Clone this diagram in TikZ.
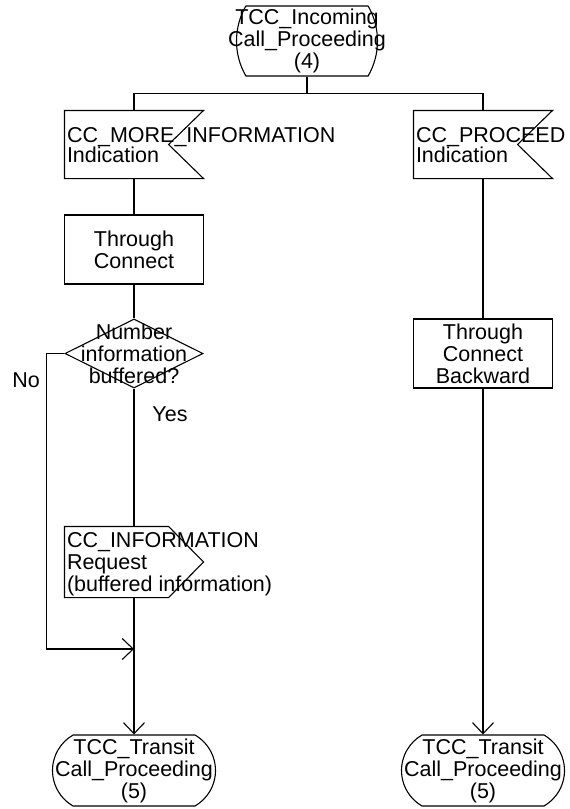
\documentclass[tikz,border=0pt]{standalone}
\usepackage{fontspec}
\setmainfont{Liberation Sans}
\usetikzlibrary{shapes.geometric,shapes.misc,arrows.meta}

\begin{document}
\begin{tikzpicture}[x=1pt,y=-1pt,line width=1.1pt,
	txt/.style={font=\fontsize{21.5}{22}\selectfont,inner sep=0pt,align=center},
	state/.style={rounded rectangle,draw,inner sep=0pt,minimum height=70pt},
	task/.style={rectangle,draw,txt,minimum width=139pt,minimum height=69pt},
	decision/.style={diamond,draw,inner sep=0pt,minimum width=138pt,minimum height=69pt},
	sigbox/.style={rectangle,inner sep=0pt,minimum width=138pt,minimum height=67pt},
	flow/.style={-{Straight Barb[length=11pt,width=21pt]}}]
		\useasboundingbox (0,0) rectangle (570,809);
		
		% Start state
		\node[state,minimum width=141pt,rounded rectangle arc length=60] (init) at (307,41) {};
		\node[txt] (initTxt) at (init) {TCC\_Incoming\\Call\_Proceeding\\(4)};
		\coordinate (bar) at ([yshift=-17pt]init.south);
		
		% Left branch
		\node[sigbox] (moreInd) at (134,144.5) {};
		\node[txt,align=left,anchor=north west,font=\fontsize{21.5}{18.5}\selectfont] (moreTxt) at ([xshift=2pt,yshift=-16pt]moreInd.north west) {CC\_MORE\_INFORMATION\\Indication};
		\node[task] (thru) at (134,249.5) {Through\\Connect};
		\node[decision] (buf) at (134,353.5) {};
		\node[txt] (bufTxt) at (buf) {Number\\information\\buffered?};
		\node[sigbox,minimum height=70pt] (infoReq) at (134,562) {};
		\node[txt,align=left,anchor=north west] (infoTxt) at ([xshift=2pt,yshift=-5pt]infoReq.north west) {CC\_INFORMATION\\Request\\(buffered information)};
		\node[state,minimum width=163pt,minimum height=71pt,rounded rectangle arc length=120] (next1) at (134,770.5) {};
		\node[txt] (next1Txt) at (next1) {TCC\_Transit\\Call\_Proceeding\\(5)};
		\coordinate (merge) at (134,649);
		
		% Right branch
		\node[sigbox] (procInd) at (483,144.5) {};
		\node[txt,align=left,anchor=north west,font=\fontsize{21.5}{18.5}\selectfont] (procTxt) at ([xshift=2pt,yshift=-16pt]procInd.north west) {CC\_PROCEED\\Indication};
		\node[task] (back) at (483,353.5) {Through\\Connect\\Backward};
		\node[state,minimum width=163pt,minimum height=71pt,rounded rectangle arc length=120] (next2) at (483,770.5) {};
		\node[txt] (next2Txt) at (next2) {TCC\_Transit\\Call\_Proceeding\\(5)};
		
		% Signal outlines (input with notch, output with point)
		\foreach \s in {moreInd,procInd}
			\draw (\s.north west) -- (\s.north east) -- ([xshift=-35pt]\s.east) -- (\s.south east) -- (\s.south west) -- cycle;
		\draw (infoReq.north west) -- ([xshift=-35pt]infoReq.north east) -- (infoReq.east) -- ([xshift=-35pt]infoReq.south east) -- (infoReq.south west) -- cycle;
		
		% Flow lines
		\draw (init.south) -- (bar);
		\draw (moreInd.north) |- (bar) -| (procInd.north);
		\draw (moreInd.south) -- (thru.north);
		\draw (thru.south) -- (buf.north);
		\draw (buf.south) -- (infoReq.north);
		\draw[flow] (infoReq.south) -- (next1.north);
		\draw[flow] (buf.west) -- ++(-18,0) |- (merge);
		\draw (procInd.south) -- (back.north);
		\draw[flow] (back.south) -- (next2.north);
		
		% Answers
		\node[txt] (no) at (26,380) {No};
		\node[txt] (yes) at (170,414) {Yes};
	\end{tikzpicture}
\end{document}
